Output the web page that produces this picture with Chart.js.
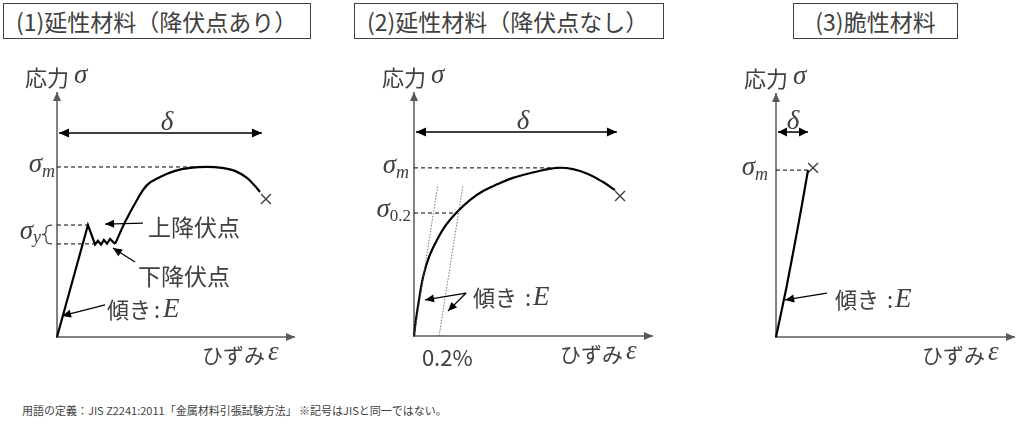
<!DOCTYPE html>
<html lang="ja">
<head>
<meta charset="UTF-8">
<title>応力-ひずみ線図</title>
<style>
    body {
        margin: 0;
        background: #fff;
        width: 1024px;
        height: 435px;
        position: relative;
        overflow: hidden;
        font-family: "Noto Sans CJK JP", sans-serif;
        color: #404040;
    }

    canvas {
        position: absolute;
        top: 0;
    }

    .title {
        position: absolute;
        top: 3px;
        height: 34px;
        line-height: 34px;
        border: 1.5px solid #404040;
        font-size: 23px;
        white-space: nowrap;
    }

    .note {
        position: absolute;
        left: 22px;
        top: 402px;
        font-size: 11px;
        white-space: nowrap;
    }
</style>
</head>
<body>
<div class="title" style="left:3px;width:294px;padding-left:12px;">(1)延性材料（降伏点あり）</div>
<div class="title" style="left:354px;width:296px;padding-left:12px;">(2)延性材料（降伏点なし）</div>
<div class="title" style="left:793px;width:163px;text-align:center;">(3)脆性材料</div>

<canvas id="c1" width="340" height="380" style="left:0"></canvas>
<canvas id="c2" width="340" height="380" style="left:340px"></canvas>
<canvas id="c3" width="344" height="380" style="left:680px"></canvas>

<div class="note">用語の定義：JIS Z2241:2011「金属材料引張試験方法」 ※記号はJISと同一ではない。</div>

<script src="https://cdn.jsdelivr.net/npm/chart.js"></script>
<script>
    // --- (1) 降伏点あり : [ひずみ, 応力] (軸を 0-100 とした相対値)
    const elastic1 = [[0, 0], [13.0, 45.7], [16.0, 37.8], [17.2, 39.3], [18.5, 37.7], [19.7, 39.6],
        [21.0, 38.1], [22.3, 40.0], [24.4, 38.0]];
    const hardening1 = [[24.4, 38.0], [28.6, 46.9], [33.6, 55.9], [37.8, 62.0], [43.3, 65.3], [49.6, 67.8],
        [55.9, 69.0], [63.0, 69.4], [69.3, 69.0], [74.8, 67.8], [79.8, 64.9], [83.2, 61.6], [85.3, 59.2]];
    const fracture1 = [[87.8, 56.3]];
    const sigmaM1 = 69.4;
    const sigmaYU1 = 45.7;
    const sigmaYL1 = 38.0;
    const delta1 = [0, 86.1];
    const deltaLevel1 = 83.3;

    // --- (2) 降伏点なし
    const curve2 = [[0, 0], [0.8, 6.6], [2.1, 14.8], [3.8, 24.2], [6.3, 32.4], [9.6, 39.3], [13.4, 45.5],
        [18.0, 50.8], [23.4, 55.7], [28.9, 59.4], [35.1, 62.3], [41.4, 64.8], [50.6, 67.2], [59.8, 68.9],
        [66.5, 68.4], [72.8, 66.4], [79.1, 63.1], [84.1, 59.8]];
    const fracture2 = [[86.2, 57.4]];
    const elasticLine2 = [[0, 0], [10.0, 62.0]];
    const offsetLine2 = [[10.5, 0], [20.5, 62.0]];
    const sigmaM2 = 68.9;
    const sigmaM2x = 59.8;
    const sigma02 = 50.4;
    const sigma02x = 18.3;
    const delta2 = [0, 84.9];
    const deltaLevel2 = 83.6;

    // --- (3) 脆性材料
    const curve3 = [[0, 0], [4.3, 20.0], [8.2, 40.0], [11.0, 55.0], [13.4, 68.4]];
    const fracture3 = [[15.5, 69.3]];
    const sigmaM3 = 68.4;
    const delta3 = [0, 13.4];
    const deltaLevel3 = 84.0;

    const INK = '#404040';
    const AXIS = '#595959';
    const JP = '"Noto Sans CJK JP", sans-serif';
    const MATH = '"Liberation Serif", "DejaVu Serif", serif';
    const SYM = 'italic 27px ' + MATH;
    const SUBI = 'italic 18px ' + MATH;
    const SUBR = '17px ' + MATH;

    const pts = arr => arr.map(p => ({ x: p[0], y: p[1] }));

    function head(ctx, x1, y1, x2, y2, len, w) {
        const a = Math.atan2(y2 - y1, x2 - x1);
        const c = Math.cos(a), s = Math.sin(a);
        ctx.beginPath();
        ctx.moveTo(x2, y2);
        ctx.lineTo(x2 - len * c + w * s, y2 - len * s - w * c);
        ctx.lineTo(x2 - len * c - w * s, y2 - len * s + w * c);
        ctx.closePath();
        ctx.fill();
    }

    function arrow(ctx, x1, y1, x2, y2, both, len = 9, w = 4) {
        ctx.beginPath();
        ctx.moveTo(x1, y1);
        ctx.lineTo(x2, y2);
        ctx.stroke();
        head(ctx, x1, y1, x2, y2, len, w);
        if (both) head(ctx, x2, y2, x1, y1, len, w);
    }

    // parts: [text, font, dy]
    function math(ctx, parts, x, y, align) {
        let total = 0;
        parts.forEach(p => { ctx.font = p[1]; total += ctx.measureText(p[0]).width; });
        let cx = align === 'right' ? x - total : align === 'center' ? x - total / 2 : x;
        ctx.textAlign = 'left';
        ctx.textBaseline = 'middle';
        parts.forEach(p => {
            ctx.font = p[1];
            ctx.fillText(p[0], cx, y + p[2]);
            cx += ctx.measureText(p[0]).width;
        });
    }

    function jp(ctx, text, x, y, size) {
        ctx.font = size + 'px ' + JP;
        ctx.textAlign = 'left';
        ctx.textBaseline = 'middle';
        ctx.fillText(text, x, y);
    }

    function dashed(data) {
        return { data: pts(data), showLine: true, borderColor: '#000', borderWidth: 1, borderDash: [4, 3], pointRadius: 0, clip: false };
    }

    function curve(data, tension) {
        return { data: pts(data), showLine: true, borderColor: '#000', borderWidth: 2.2, tension: tension, pointRadius: 0, clip: false };
    }

    function cross(data) {
        return { data: pts(data), showLine: false, pointStyle: 'crossRot', pointRadius: 7, borderColor: INK, borderWidth: 1.4, clip: false };
    }

    function makeChart(id, datasets, padding, front) {
        const axes = {
            id: 'axes-' + id,
            beforeDatasetsDraw(chart) {
                const ctx = chart.ctx, ca = chart.chartArea;
                const x0 = chart.scales.x.getPixelForValue(0);
                const y0 = chart.scales.y.getPixelForValue(0);
                ctx.save();
                ctx.strokeStyle = AXIS;
                ctx.fillStyle = AXIS;
                ctx.lineWidth = 1.5;
                arrow(ctx, x0, y0 + 1, x0, ca.top, false, 9, 4);
                arrow(ctx, x0 - 1, y0, ca.right, y0, false, 9, 4);
                ctx.restore();
            },
            afterDatasetsDraw(chart) {
                const ctx = chart.ctx, ca = chart.chartArea;
                const px = v => chart.scales.x.getPixelForValue(v);
                const py = v => chart.scales.y.getPixelForValue(v);
                ctx.save();
                ctx.fillStyle = INK;
                jp(ctx, '応力', px(0) - 32, ca.top - 14, 22);
                math(ctx, [['σ', SYM, -2]], px(0) + 17, ca.top - 14, 'left');
                jp(ctx, 'ひずみ', ca.right - 93, py(0) + 18, 21);
                math(ctx, [['ε', SYM, -2]], ca.right - 27, py(0) + 18, 'left');
                front(ctx, px, py);
                ctx.restore();
            }
        };
        return new Chart(document.getElementById(id), {
            type: 'scatter',
            data: { datasets: datasets },
            options: {
                responsive: false,
                animation: false,
                events: [],
                layout: { padding: padding },
                plugins: { legend: { display: false }, tooltip: { enabled: false } },
                scales: {
                    x: { type: 'linear', min: 0, max: 100, display: false },
                    y: { type: 'linear', min: 0, max: 100, display: false }
                }
            },
            plugins: [axes]
        });
    }

    // (1)
    makeChart('c1', [
        dashed([[0, sigmaM1], [63.0, sigmaM1]]),
        dashed([[0, sigmaYU1], [13.0, sigmaYU1]]),
        dashed([[0, sigmaYL1], [16.5, sigmaYL1]]),
        curve(elastic1, 0),
        curve(hardening1, 0.4),
        cross(fracture1)
    ], { left: 57, top: 92, right: 45, bottom: 43 }, (ctx, px, py) => {
        ctx.strokeStyle = '#000';
        ctx.fillStyle = '#000';
        ctx.lineWidth = 1.5;
        arrow(ctx, px(delta1[0]) + 2, py(deltaLevel1), px(delta1[1]), py(deltaLevel1), true, 10, 4.5);
        ctx.lineWidth = 1.3;
        arrow(ctx, px(36.1), py(46.5), px(20.2), py(46.1), false);
        arrow(ctx, px(32.8), py(30.6), px(23.5), py(36.3), false);
        arrow(ctx, px(20.2), py(13.1), px(2.1), py(8.6), false);

        ctx.fillStyle = INK;
        math(ctx, [['δ', SYM, 0]], px(46.2), py(deltaLevel1) - 10, 'center');
        math(ctx, [['σ', SYM, -2], ['m', SUBI, 5]], px(0) - 2, py(sigmaM1), 'right');

        // brace for σy
        const yu = py(sigmaYU1), yl = py(sigmaYL1), bx = px(0) - 15, mid = (yu + yl) / 2;
        ctx.strokeStyle = INK;
        ctx.lineWidth = 1.2;
        ctx.beginPath();
        ctx.moveTo(bx + 10, yu);
        ctx.quadraticCurveTo(bx + 4, yu, bx + 4, yu + 4);
        ctx.lineTo(bx + 4, mid - 3);
        ctx.quadraticCurveTo(bx + 4, mid, bx, mid);
        ctx.quadraticCurveTo(bx + 4, mid, bx + 4, mid + 3);
        ctx.lineTo(bx + 4, yl - 4);
        ctx.quadraticCurveTo(bx + 4, yl, bx + 10, yl);
        ctx.stroke();
        math(ctx, [['σ', SYM, -2], ['y', SUBI, 5]], bx - 1, mid - 1, 'right');

        jp(ctx, '上降伏点', px(38.2), py(44.9), 23);
        jp(ctx, '下降伏点', px(34.0), py(24.9), 23);
        jp(ctx, '傾き', px(21.0), py(11.0), 22);
        jp(ctx, ':', px(21.0) + 47, py(11.0), 22);
        math(ctx, [['E', SYM, 0]], px(21.0) + 56, py(11.0), 'left');
    });

    // (2)
    const thin = data => ({ data: pts(data), showLine: true, borderColor: '#666', borderWidth: 0.9, borderDash: [1.5, 1.5], pointRadius: 0, clip: false });
    makeChart('c2', [
        thin(elasticLine2),
        thin(offsetLine2),
        dashed([[0, sigmaM2], [sigmaM2x, sigmaM2]]),
        dashed([[0, sigma02], [sigma02x, sigma02]]),
        curve(curve2, 0.4),
        cross(fracture2)
    ], { left: 74, top: 92, right: 27, bottom: 44 }, (ctx, px, py) => {
        ctx.strokeStyle = '#000';
        ctx.fillStyle = '#000';
        ctx.lineWidth = 1.5;
        arrow(ctx, px(delta2[0]) + 2, py(deltaLevel2), px(delta2[1]), py(deltaLevel2), true, 10, 4.5);
        ctx.lineWidth = 1.3;
        arrow(ctx, px(21.8), py(17.6), px(4.6), py(14.8), false);
        arrow(ctx, px(21.8), py(17.6), px(14.2), py(10.2), false);

        ctx.fillStyle = INK;
        math(ctx, [['δ', SYM, 0]], px(45.6), py(deltaLevel2) - 10, 'center');
        math(ctx, [['σ', SYM, -2], ['m', SUBI, 5]], px(0) - 5, py(sigmaM2), 'right');
        math(ctx, [['σ', SYM, -3], ['0.2', SUBR, 4]], px(0) - 3, py(sigma02), 'right');

        jp(ctx, '傾き', px(24.7), py(15.6), 22);
        jp(ctx, ':', px(24.7) + 52, py(15.6), 22);
        math(ctx, [['E', SYM, 0]], px(24.7) + 60, py(15.6), 'left');
        jp(ctx, '0.2%', px(3.3), py(0) + 22, 22);
    });

    // (3)
    makeChart('c3', [
        dashed([[0, sigmaM3], [13.4, sigmaM3]]),
        curve(curve3, 0.3),
        cross(fracture3)
    ], { left: 96, top: 93, right: 9, bottom: 43 }, (ctx, px, py) => {
        ctx.strokeStyle = '#000';
        ctx.fillStyle = '#000';
        ctx.lineWidth = 1.5;
        arrow(ctx, px(delta3[0]) + 2, py(deltaLevel3), px(delta3[1]), py(deltaLevel3), true, 9, 4.5);
        ctx.lineWidth = 1.3;
        arrow(ctx, px(21.3), py(18.0), px(3.8), py(15.2), false);

        ctx.fillStyle = INK;
        math(ctx, [['δ', SYM, 0]], px(7.1), py(deltaLevel3) - 10, 'center');
        math(ctx, [['σ', SYM, -2], ['m', SUBI, 5]], px(0) - 8, py(sigmaM3), 'right');

        jp(ctx, '傾き', px(24.7), py(15.2), 22);
        jp(ctx, ':', px(24.7) + 52, py(15.2), 22);
        math(ctx, [['E', SYM, 0]], px(24.7) + 60, py(15.2), 'left');
    });
</script>
</body>
</html>
